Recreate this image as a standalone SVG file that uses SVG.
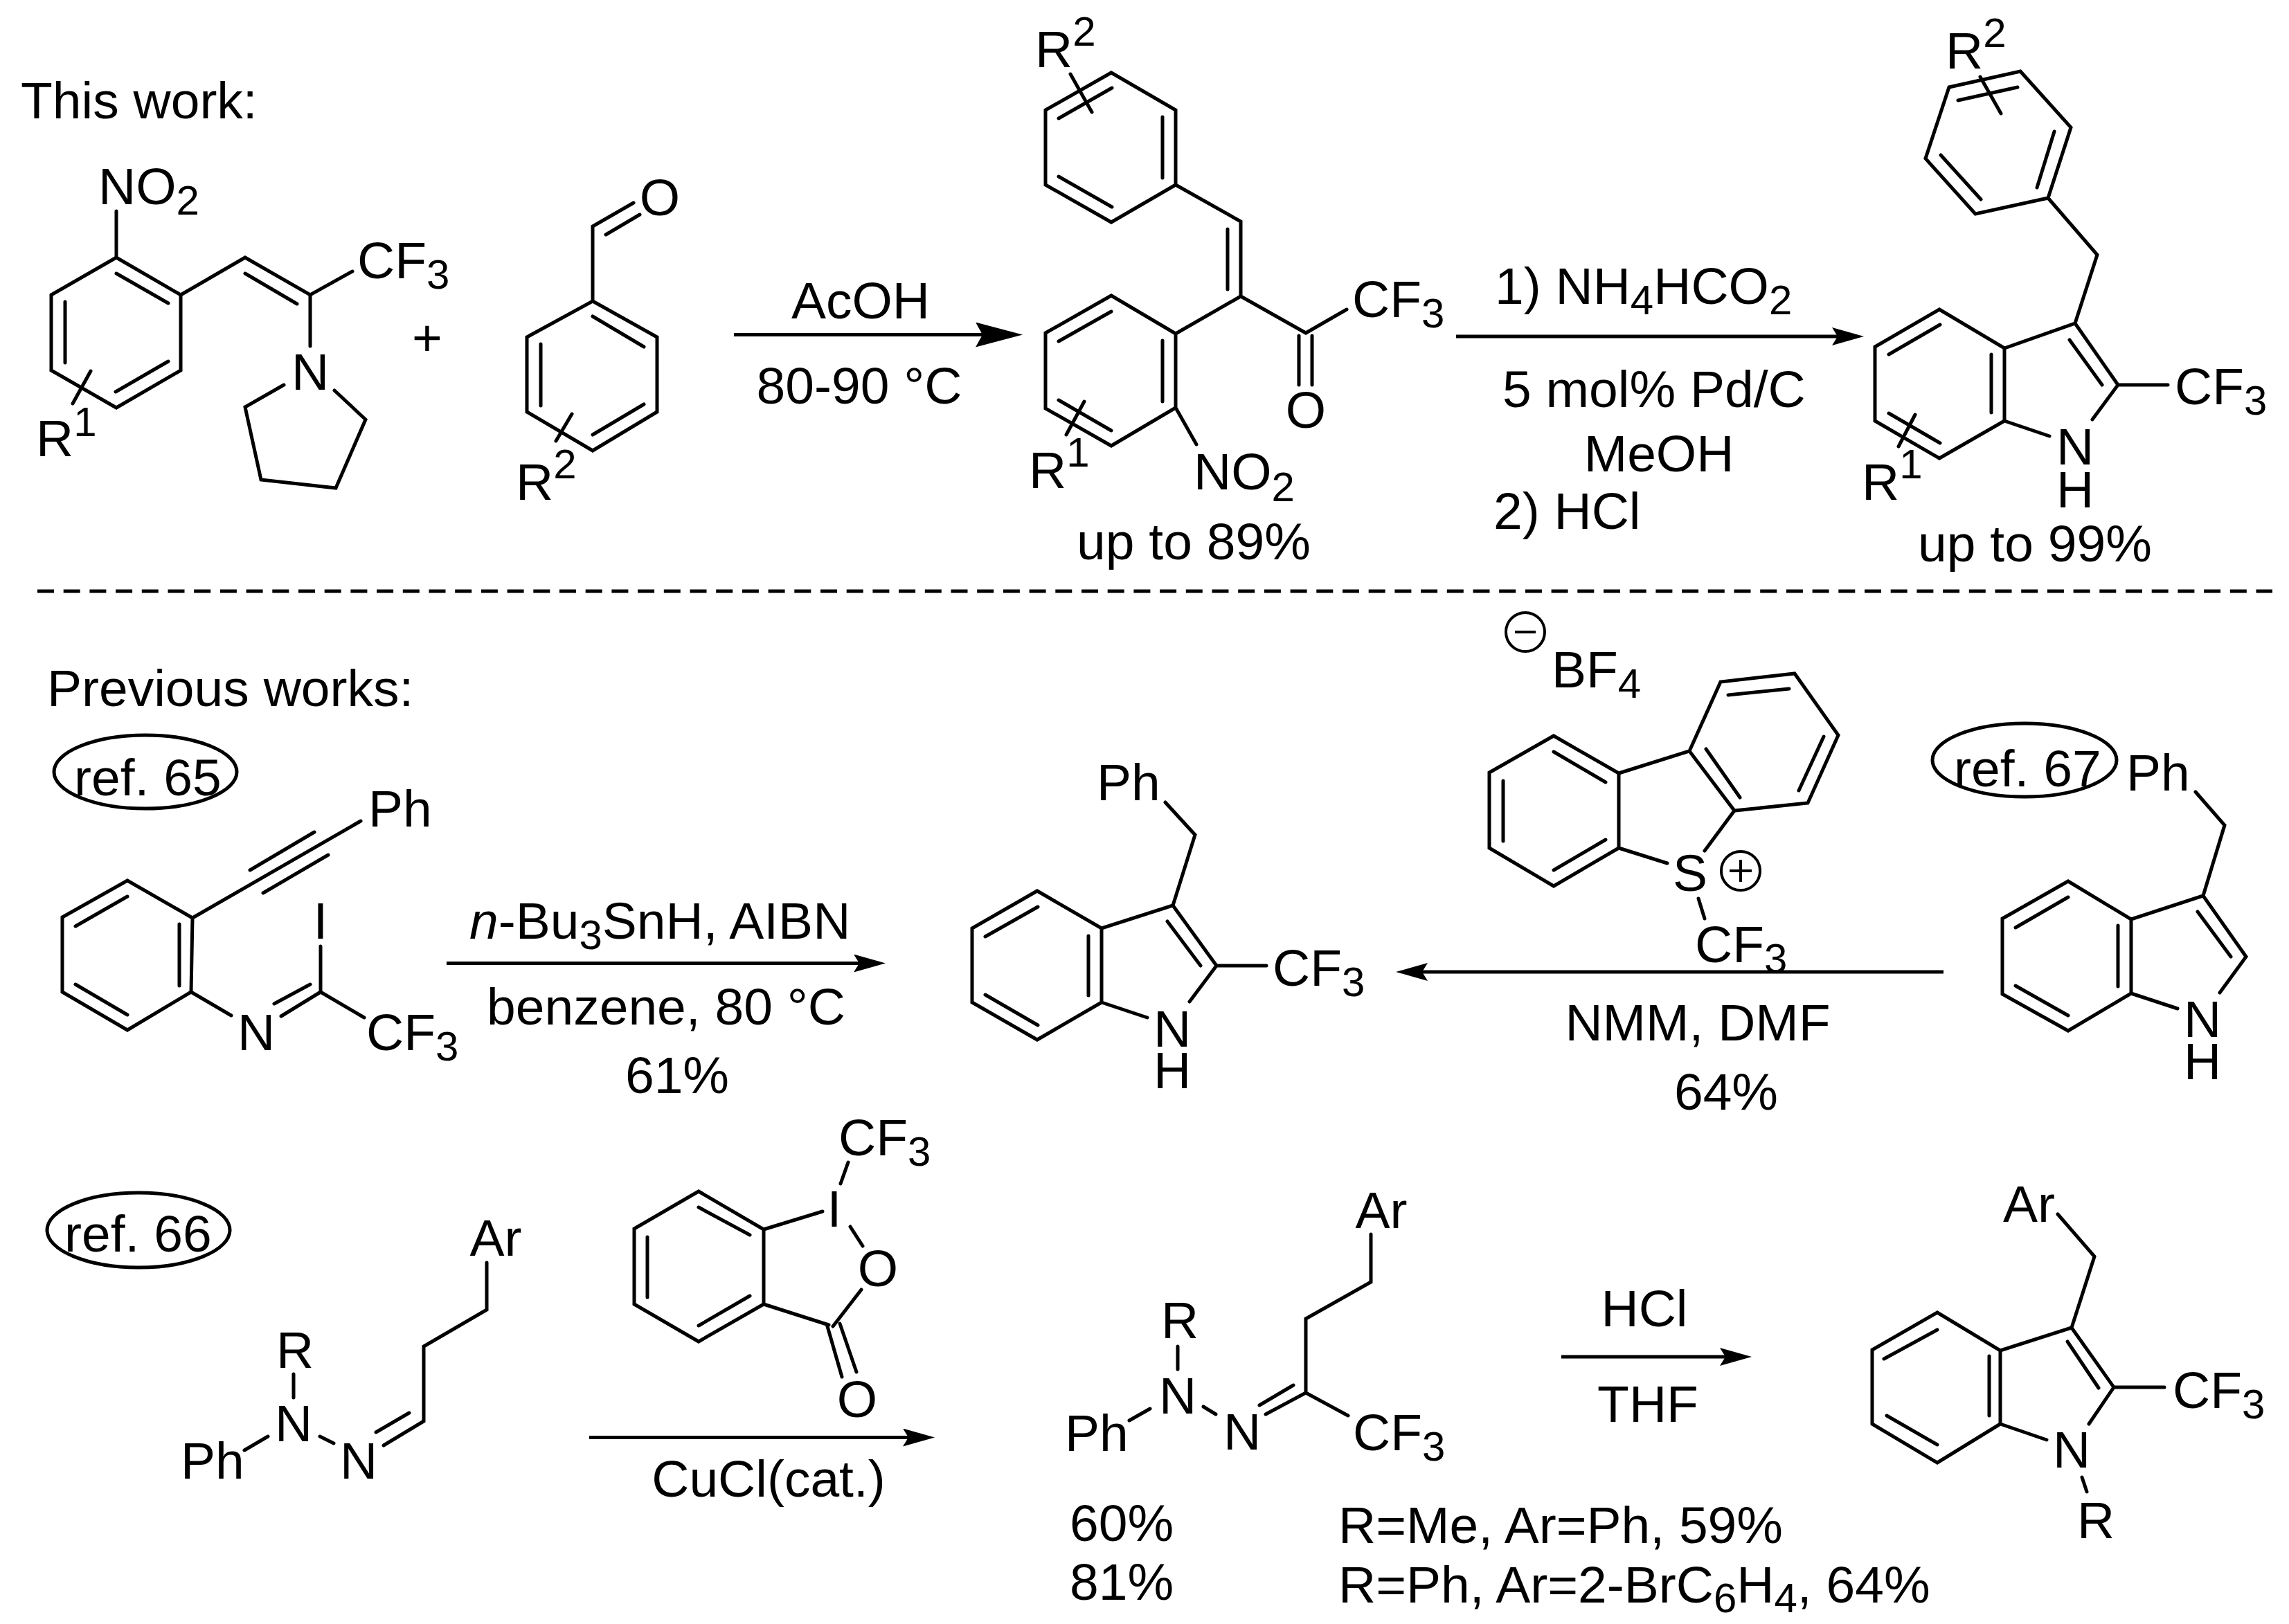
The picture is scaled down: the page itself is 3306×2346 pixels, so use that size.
<svg xmlns="http://www.w3.org/2000/svg" width="3306" height="2346" viewBox="0 0 3306 2346">
<style>
text{font-family:"Liberation Sans",Arial,sans-serif;font-size:75px;fill:#000}
.m{text-anchor:middle}
.s{font-size:60px}
.b{fill:none;stroke:#000;stroke-width:5;stroke-linecap:round;stroke-linejoin:miter}
.o{fill:none;stroke:#000;stroke-width:5}
.c{fill:none;stroke:#000;stroke-width:4}
.a{fill:none;stroke:#000;stroke-width:5}
</style>
<defs>
<marker id="hb" viewBox="0 0 68 36" refX="58" refY="18" markerWidth="68" markerHeight="36" markerUnits="userSpaceOnUse" orient="auto"><path d="M68,18 L0,0 L10,18 L0,36 Z"/></marker>
<marker id="h" viewBox="0 0 46 26" refX="36" refY="13" markerWidth="46" markerHeight="26" markerUnits="userSpaceOnUse" orient="auto"><path d="M46,13 L0,0 L8,13 L0,26 Z"/></marker>
</defs>
<rect width="3306" height="2346" fill="#fff"/>
<g id="connectors">
<path class="a" d="M1060,483.500H1467" marker-end="url(#hb)"/>
<path class="a" d="M2103,486H2682" marker-end="url(#h)"/>
<path class="a" d="M645,1391.500H1269" marker-end="url(#h)"/>
<path class="a" d="M2807,1404H2026" marker-end="url(#h)"/>
<path class="a" d="M851,2076.500H1340" marker-end="url(#h)"/>
<path class="a" d="M2255,1960H2520" marker-end="url(#h)"/>
</g>
<g id="separator"><path d="M54,854H3282" fill="none" stroke="#000" stroke-width="5" stroke-dasharray="24 13.700"/></g>
<g id="heading-this-work"><text x="30" y="171">This work:</text></g>
<g id="heading-previous-works"><text x="68" y="1020">Previous works:</text></g>

<g id="nitrostyrene">
<path class="b" d="M168,372L261,426V535L168,589L74,535V426ZM168,395L243,438M94,436V524M167,566L243,522M168,372V305M261,426L354,372L448,426L509,392M354,395L429,439M448,426V500M410,556L354,588L377,693L485,705L528,606L483,564M131,536L105,583"/>
<text x="142" y="295">NO<tspan class="s" dy="15">2</tspan></text>
<text x="516" y="402">CF<tspan class="s" dy="15">3</tspan></text>
<text class="m" x="448" y="563">N</text>
<text x="52" y="659">R<tspan class="s" dy="-29">1</tspan></text>
</g>
<g id="plus"><text class="m" x="617" y="514">+</text></g>
<g id="benzaldehyde">
<path class="b" d="M856,435L949,487V595L856,651L761,595V487ZM856,457L930,501M781,497V586M856,628L930,584M856,435V327L915,293M875,339L924,310M826,598L803,637"/>
<text class="m" x="953" y="311">O</text>
<text x="745" y="722">R<tspan class="s" dy="-31">2</tspan></text>
</g>
<g id="reagents-1"><text class="m" x="1243" y="460">AcOH</text><text class="m" x="1241" y="583">80-90 °C</text></g>
<g id="enone">
<path class="b" d="M1605,105L1698,159V267L1605,321L1510,267V159ZM1529,171L1606,127M1679,169V257M1529,255L1606,299M1546,107L1577,162M1698,267L1792,320V428L1698,482L1605,427L1510,481V590L1605,644L1698,589V482M1773,331V418M1529,493L1605,450M1679,492V580M1529,578L1605,622M1792,428L1886,481L1945,447M1876,485V556M1895,485V556M1698,589L1728,642M1566,580L1540,628"/>
<text x="1495" y="97">R<tspan class="s" dy="-31">2</tspan></text>
<text x="1953" y="458">CF<tspan class="s" dy="15">3</tspan></text>
<text class="m" x="1886" y="618">O</text>
<text x="1724" y="707">NO<tspan class="s" dy="17">2</tspan></text>
<text x="1486" y="705">R<tspan class="s" dy="-31">1</tspan></text>
<text class="m" x="1724" y="808">up to 89%</text>
</g>
<g id="reagents-2">
<text x="2159" y="439">1) NH<tspan class="s" dy="15">4</tspan><tspan dy="-15">HCO</tspan><tspan class="s" dy="15">2</tspan></text>
<text x="2170" y="588">5 mol% Pd/C</text>
<text class="m" x="2396" y="681">MeOH</text>
<text x="2157" y="764">2) HCl</text>
</g>
<g id="indole-product">
<path class="b" d="M2918,103L2991,184L2958,286L2853,309L2781,229L2815,126ZM2828,145L2914,126M2967,190L2942,271M2803,224L2861,288M2860,111L2890,164M2958,286L3029,368L2997,467L2895,503L2801,447L2708,501V608L2801,662L2895,608V503M2997,467L3059,556L3022,606M2728,512L2802,469M2876,512V596M2728,597L2802,640M2989,491L3036,556M2895,608L2960,630M3059,556H3131M2766,599L2742,645"/>
<text x="2810" y="99">R<tspan class="s" dy="-31">2</tspan></text>
<text x="3141" y="584">CF<tspan class="s" dy="15">3</tspan></text>
<text class="m" x="2997" y="671">N</text><text class="m" x="2997" y="733">H</text>
<text x="2689" y="722">R<tspan class="s" dy="-31">1</tspan></text>
<text class="m" x="2939" y="811">up to 99%</text>
</g>
<g id="ref-65"><ellipse class="o" cx="210" cy="1115" rx="132" ry="53"/><text x="107" y="1149">ref. 65</text></g>
<g id="imidoyl-iodide">
<path class="b" d="M184,1272L278,1326L276,1433L184,1488L90,1433V1325ZM109,1338L184,1295M259,1335V1424M109,1422L184,1466M278,1326L521,1186M361,1257L454,1202M380,1290L474,1235M276,1433L334,1467M463,1433L406,1468M396,1450L448,1422M463,1433V1367M463,1433L526,1470"/>
<text x="532" y="1194">Ph</text>
<text class="m" x="370" y="1517">N</text>
<text class="m" x="463" y="1356">I</text>
<text x="529" y="1517">CF<tspan class="s" dy="15">3</tspan></text>
</g>
<g id="reagents-65">
<text x="678" y="1356"><tspan font-style="italic">n</tspan>-Bu<tspan class="s" dy="15">3</tspan><tspan dy="-15">SnH, AIBN</tspan></text>
<text class="m" x="962" y="1480">benzene, 80 °C</text>
<text class="m" x="978" y="1579">61%</text>
</g>
<g id="indole-ph-cf3">
<path class="b" d="M1683,1159L1726,1206L1694,1308L1591,1341L1498,1287L1404,1341V1448L1498,1502L1591,1448V1341M1694,1308L1757,1395L1718,1447M1423,1353L1499,1310M1572,1352V1438M1423,1437L1499,1481M1686,1331L1734,1395M1591,1448L1657,1470M1757,1395H1829"/>
<text x="1584" y="1156">Ph</text>
<text x="1838" y="1424">CF<tspan class="s" dy="15">3</tspan></text>
<text class="m" x="1693" y="1512">N</text><text class="m" x="1693" y="1572">H</text>
</g>
<g id="umemoto-reagent">
<ellipse class="c" cx="2203" cy="913" rx="28" ry="28"/><path class="c" d="M2188,913H2218"/>
<text x="2241" y="993">BF<tspan class="s" dy="15">4</tspan></text>
<path class="b" d="M2244,1063L2338,1117V1225L2244,1280L2151,1225V1116ZM2171,1128V1215M2244,1086L2319,1130M2244,1257L2319,1213M2338,1117L2440,1085L2485,985L2592,973L2655,1062L2611,1160L2505,1171L2440,1085M2496,1004L2584,995M2634,1064L2598,1142M2464,1082L2513,1152M2338,1225L2408,1247M2505,1171L2462,1229M2453,1298L2462,1327"/>
<text class="m" x="2441" y="1287">S</text>
<ellipse class="c" cx="2514" cy="1258" rx="28" ry="28"/><path class="c" d="M2498,1258H2530M2514,1242V1274"/>
<text x="2448" y="1390">CF<tspan class="s" dy="15">3</tspan></text>
</g>
<g id="reagents-67"><text class="m" x="2452" y="1503">NMM, DMF</text><text class="m" x="2493" y="1603">64%</text></g>
<g id="ref-67"><ellipse class="o" cx="2924" cy="1098" rx="133" ry="53"/><text x="2822" y="1136">ref. 67</text></g>
<g id="indole-ph">
<path class="b" d="M3171,1144L3213,1192L3182,1294L3078,1328L2987,1273L2892,1327V1436L2987,1489L3078,1435V1328M3182,1294L3244,1382L3206,1434M2911,1340L2987,1296M3059,1337V1425M2911,1424L2987,1467M3174,1317L3222,1382M3078,1435L3145,1457"/>
<text x="3071" y="1142">Ph</text>
<text class="m" x="3181" y="1498">N</text><text class="m" x="3181" y="1559">H</text>
</g>
<g id="ref-66"><ellipse class="o" cx="200" cy="1777" rx="132" ry="54"/><text x="93" y="1808">ref. 66</text></g>
<g id="hydrazone-1">
<path class="b" d="M703,1824V1892L612,1945V2053L554,2088M591,2041L543,2069M462,2075L482,2085M424,1985V2019M387,2075L353,2095"/>
<text class="m" x="716" y="1814">Ar</text>
<text class="m" x="518" y="2136">N</text>
<text class="m" x="424" y="2082">N</text>
<text x="399" y="1976">R</text>
<text x="261" y="2136">Ph</text>
</g>
<g id="togni-reagent">
<path class="b" d="M1009,1721L1103,1776V1884L1009,1938L916,1884V1775ZM1009,1744L1083,1784M935,1787V1874M1009,1915L1083,1872M1103,1776L1188,1750M1225,1679L1214,1710M1228,1772L1246,1800M1244,1863L1203,1916M1103,1884L1197,1914M1195,1916L1216,1989M1213,1912L1237,1982"/>
<text class="m" x="1205" y="1772">I</text>
<text x="1211" y="1669">CF<tspan class="s" dy="15">3</tspan></text>
<text class="m" x="1268" y="1858">O</text>
<text class="m" x="1238" y="2047">O</text>
</g>
<g id="reagents-66"><text class="m" x="1110" y="2162">CuCl(cat.)</text></g>
<g id="hydrazone-2">
<path class="b" d="M1980,1783V1852L1886,1905V2012L1828,2043M1868,2001L1819,2030M1886,2012L1947,2045M1701,1945V1978M1738,2032L1756,2043M1661,2035L1631,2052"/>
<text class="m" x="1995" y="1774">Ar</text>
<text class="m" x="1794" y="2094">N</text>
<text x="1954" y="2095">CF<tspan class="s" dy="15">3</tspan></text>
<text class="m" x="1701" y="2042">N</text>
<text x="1677" y="1933">R</text>
<text x="1538" y="2096">Ph</text>
<text x="1545" y="2226">60%</text>
<text x="1545" y="2311">81%</text>
<text x="1933" y="2229">R=Me, Ar=Ph, 59%</text>
<text x="1933" y="2315">R=Ph, Ar=2-BrC<tspan class="s" dy="14">6</tspan><tspan dy="-14">H</tspan><tspan class="s" dy="14">4</tspan><tspan dy="-14">, 64%</tspan></text>
</g>
<g id="reagents-hcl"><text class="m" x="2375" y="1916">HCl</text><text class="m" x="2380" y="2054">THF</text></g>
<g id="indole-n-r">
<path class="b" d="M2972,1754L3025,1815L2992,1918L2889,1951L2798,1896L2704,1950V2057L2798,2113L2889,2057V1951M2992,1918L3053,2004L3017,2057M2721,1963L2798,1921M2873,1959V2045M2725,2045L2798,2087M2986,1938L3031,2005M2889,2057L2956,2080M3053,2004H3126M3007,2134L3014,2155"/>
<text x="2893" y="1765">Ar</text>
<text x="3138" y="2034">CF<tspan class="s" dy="15">3</tspan></text>
<text class="m" x="2992" y="2120">N</text>
<text x="3000" y="2222">R</text>
</g>
</svg>
